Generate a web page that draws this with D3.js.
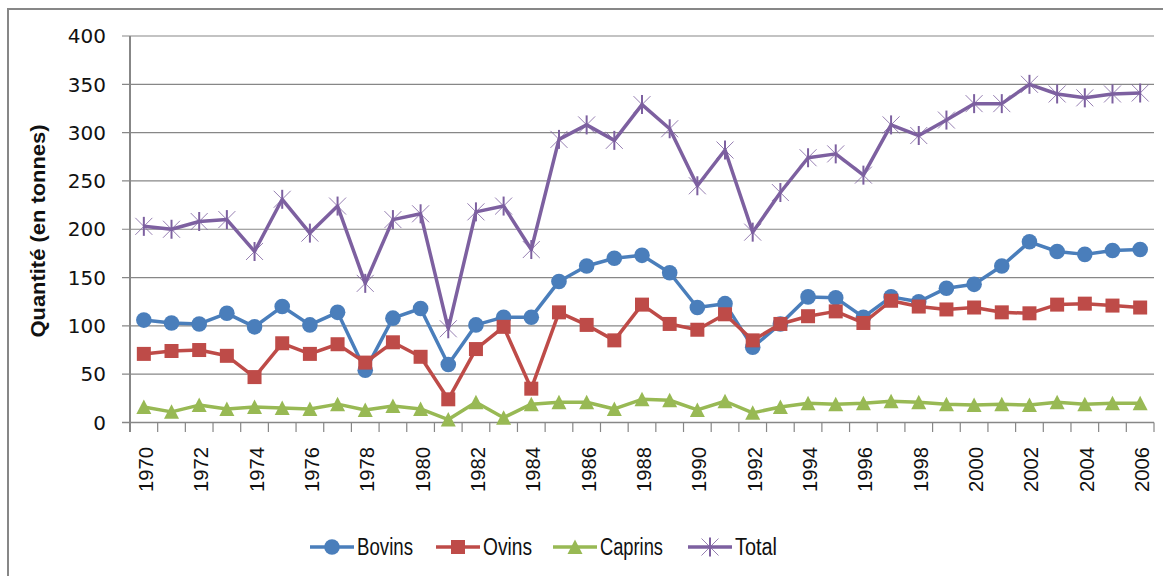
<html>
<head>
<meta charset="utf-8">
<script src="https://d3js.org/d3.v7.min.js"></script>
<style>
    body { margin: 0; background: #fff; }
</style>
</head>
<body>
<script>
    // data (tonnes per year)
    let years = [1970,1971,1972,1973,1974,1975,1976,1977,1978,1979,1980,1981,1982,1983,1984,1985,1986,1987,1988,
                 1989,1990,1991,1992,1993,1994,1995,1996,1997,1998,1999,2000,2001,2002,2003,2004,2005,2006];
    let bovins = [106,103,102,113,99,120,101,114,54, 108,118,60,101,109,109,146,162,170,173,
                  155,119,123,78,102,130,129,109,130, 125,139,143,162,187,177,174,178,179];
    let ovins = [71,74,75,69,47,82,71,81,62, 83,68,24,76,99,35,114,101,85,122,
                 102,96,112,85,102,110,115,103,126, 120,117,119,114,113,122,123,121,119];
    let caprins = [16,11,18,14,16,15,14,19,13, 17,14,3,21,5,19,21,21,14,24,
                   23,13,22,10,16,20,19,20,22, 21,19,18,19,18,21,19,20,20];
    let total = [203,200,208,210,177,231,196,224,144, 210,216,97,218,224,179,293,308,292,329,
                 304,245,282,197,238,274,278,256,308, 297,313,330,330,350,340,336,340,341];
    let yTicks = [0, 50, 100, 150, 200, 250, 300, 350, 400];
    let seriesNames = ["Bovins", "Ovins", "Caprins", "Total"];

    let series = [
        {name: "Bovins", values: bovins, color: "#4a7ebb", marker: "circle"},
        {name: "Ovins", values: ovins, color: "#be4b48", marker: "square"},
        {name: "Caprins", values: caprins, color: "#98b954", marker: "triangle"},
        {name: "Total", values: total, color: "#7d60a0", marker: "star"}
    ];

    let width = 1163;
    let height = 576;
    let grid = "#878787";

    let svg = d3.select("body").append("svg")
        .attr("width", width)
        .attr("height", height);

    svg.append("rect")
        .attr("width", width).attr("height", height)
        .attr("fill", "#fff");

    // chart frame (cut off on the right and bottom)
    svg.append("rect")
        .attr("x", 8).attr("y", 9)
        .attr("width", 1180).attr("height", 600)
        .attr("fill", "none")
        .attr("stroke", grid)
        .attr("stroke-width", 2);

    let x = d3.scaleBand()
        .domain(years)
        .range([130, 1154]);
    let y = d3.scaleLinear()
        .domain([0, 400])
        .range([422.5, 36]);
    let cx = d => x(d) + x.bandwidth() / 2;

    // horizontal gridlines + y ticks
    svg.selectAll(".grid")
        .data(yTicks)
        .join("line")
        .attr("class", "grid")
        .attr("x1", 122).attr("x2", 1154)
        .attr("y1", d => y(d)).attr("y2", d => y(d))
        .attr("stroke", grid)
        .attr("stroke-width", d => d == 0 ? 1.6 : 1.2);

    svg.selectAll(".ylab")
        .data(yTicks)
        .join("text")
        .attr("class", "ylab")
        .attr("x", 106)
        .attr("y", d => y(d))
        .attr("dy", "0.36em")
        .attr("text-anchor", "end")
        .attr("font-family", "DejaVu Sans")
        .attr("font-size", 20)
        .attr("fill", "#111")
        .text(d => d);

    // y axis line
    svg.append("line")
        .attr("x1", 130).attr("x2", 130)
        .attr("y1", y(400)).attr("y2", 432)
        .attr("stroke", grid)
        .attr("stroke-width", 2);

    // x ticks between categories
    svg.selectAll(".xtick")
        .data(years.slice(1).concat(["end"]))
        .join("line")
        .attr("class", "xtick")
        .attr("x1", d => d == "end" ? 1154 : x(d))
        .attr("x2", d => d == "end" ? 1154 : x(d))
        .attr("y1", y(0)).attr("y2", 432)
        .attr("stroke", grid)
        .attr("stroke-width", 1.2);

    svg.selectAll(".xlab")
        .data(years.filter((d, i) => i % 2 == 0))
        .join("text")
        .attr("class", "xlab")
        .attr("transform", d => `translate(${cx(d) + 9},447) rotate(-90)`)
        .attr("text-anchor", "end")
        .attr("font-family", "Liberation Sans")
        .attr("font-size", 20)
        .attr("textLength", 45)
        .attr("lengthAdjust", "spacingAndGlyphs")
        .attr("fill", "#111")
        .text(d => d);

    // y axis title
    svg.append("text")
        .attr("transform", "translate(45,231) rotate(-90)")
        .attr("text-anchor", "middle")
        .attr("font-family", "Liberation Sans")
        .attr("font-weight", "bold")
        .attr("font-size", 20)
        .attr("textLength", 213)
        .attr("lengthAdjust", "spacingAndGlyphs")
        .attr("fill", "#111")
        .text("Quantité (en tonnes)");

    function drawMarker(g, type, color) {
        if (type == "circle") {
            g.append("circle").attr("r", 7.8).attr("fill", color);
        } else if (type == "square") {
            g.append("rect").attr("x", -7).attr("y", -7)
                .attr("width", 14).attr("height", 14).attr("fill", color);
        } else if (type == "triangle") {
            g.append("path").attr("d", "M0,-7.5L7.5,7L-7.5,7Z").attr("fill", color);
        } else {
            g.append("path")
                .attr("d", "M-8.5,-8.5L8.5,8.5M8.5,-8.5L-8.5,8.5")
                .attr("stroke", color).attr("stroke-width", 1).attr("opacity", 0.8);
            g.append("path")
                .attr("d", "M0,-9.5L0,9.5")
                .attr("stroke", color).attr("stroke-width", 2);
        }
    }

    let line = d3.line()
        .x((d, i) => cx(years[i]))
        .y(d => y(d));

    series.forEach(s => {
        let g = svg.append("g");
        g.append("path")
            .attr("d", line(s.values))
            .attr("fill", "none")
            .attr("stroke", s.color)
            .attr("stroke-width", 3.5)
            .attr("stroke-linejoin", "round");
        g.selectAll(".mk")
            .data(s.values)
            .join("g")
            .attr("class", "mk")
            .attr("transform", (d, i) => `translate(${cx(years[i])},${y(d)})`)
            .each(function() { drawMarker(d3.select(this), s.marker, s.color); });
    });

    // legend
    let legendX = [310, 436, 553, 688];
    let legendW = [56, 49, 63, 42];
    let legend = svg.selectAll(".legend")
        .data(series)
        .join("g")
        .attr("class", "legend")
        .attr("transform", (d, i) => `translate(${legendX[i]},547)`);
    legend.append("line")
        .attr("x1", 0).attr("x2", 44)
        .attr("stroke", d => d.color)
        .attr("stroke-width", 3.5);
    legend.each(function(d) {
        let m = d3.select(this).append("g").attr("transform", "translate(22,0)");
        drawMarker(m, d.marker, d.color);
    });
    legend.append("text")
        .attr("x", 47)
        .attr("dy", "0.36em")
        .attr("font-family", "Liberation Sans")
        .attr("font-size", 23)
        .attr("textLength", (d, i) => legendW[i])
        .attr("lengthAdjust", "spacingAndGlyphs")
        .attr("fill", "#111")
        .text((d, i) => seriesNames[i]);
</script>
</body>
</html>
